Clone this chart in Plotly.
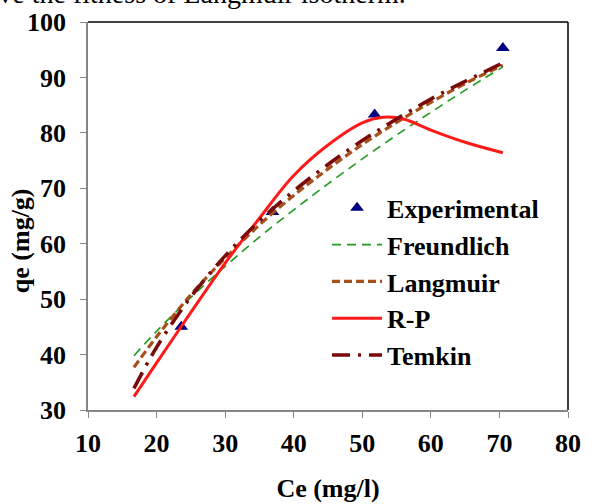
import plotly.graph_objects as go

# Experimental data
exp_ce = [23.6, 36.9, 51.8, 70.5]
exp_qe = [45.0, 65.7, 83.3, 95.3]

# Model curves
fit_ce = [16.7, 20, 25, 30, 35, 40, 45, 50, 55, 60, 65, 70.5]
freundlich_qe = [39.8, 44.2, 50.3, 55.9, 61.2, 66.1, 70.8, 75.3, 79.6, 83.7, 87.7, 91.9]
langmuir_qe = [37.7, 43.2, 50.8, 57.4, 63.4, 68.7, 73.5, 77.9, 81.9, 85.5, 88.9, 92.2]
temkin_qe = [33.9, 41.3, 50.4, 57.8, 64.1, 69.5, 74.3, 78.6, 82.5, 86.1, 89.3, 92.6]

rp_ce = [16.7, 20, 25, 30, 35, 40, 45, 50, 53, 56, 60, 65, 70.5]
rp_qe = [32.4, 38.5, 47.6, 56.5, 64.6, 72.3, 77.8, 81.8, 82.8, 82.5, 80.5, 78.3, 76.4]

x_ticks = [10, 20, 30, 40, 50, 60, 70, 80]
y_ticks = [30, 40, 50, 60, 70, 80, 90, 100]

FONT = "Liberation Serif"
FS = 26

fig = go.Figure()
fig.add_trace(go.Scatter(x=exp_ce, y=exp_qe, mode="markers", name="<b>Experimental</b>",
                         marker=dict(symbol="triangle-up", size=12, color="#000080"),
                         legendgroup="a"))
fig.add_trace(go.Scatter(x=fit_ce, y=freundlich_qe, mode="lines", name="<b>Freundlich</b>",
                         line=dict(color="#1E9A1E", width=1.6, dash="9px,6px", shape="spline"),
                         legendgroup="b"))
fig.add_trace(go.Scatter(x=fit_ce, y=langmuir_qe, mode="lines", name="<b>Langmuir</b>",
                         line=dict(color="#A5501A", width=3.2, dash="8px,4px", shape="spline"),
                         legendgroup="c"))
fig.add_trace(go.Scatter(x=rp_ce, y=rp_qe, mode="lines", name="<b>R-P</b>",
                         line=dict(color="#FF1A1A", width=3, shape="spline"),
                         legendgroup="d"))
fig.add_trace(go.Scatter(x=fit_ce, y=temkin_qe, mode="lines", name="<b>Temkin</b>",
                         line=dict(color="#7A0A0A", width=3.6, dash="18px,8px,3px,8px", shape="spline"),
                         legendgroup="e"))

axis_common = dict(
    showgrid=False, zeroline=False, showline=True, linecolor="#868686", linewidth=1.5,
    ticks="outside", ticklen=6, tickcolor="#868686", tickwidth=1, automargin=False,
    tickfont=dict(family=FONT, size=FS, color="black"),
)

fig.update_xaxes(range=[10, 80], tickvals=x_ticks, ticktext=[f"<b>{v}</b>" for v in x_ticks],
                 title=dict(text="<b>Ce (mg/l)</b>", font=dict(family=FONT, size=FS, color="black"), standoff=22),
                 ticklabelstandoff=3, **axis_common)
fig.update_yaxes(range=[30, 100], tickvals=y_ticks, ticktext=[f"<b>{v}</b>" for v in y_ticks],
                 ticklabelstandoff=9, **axis_common)

# y-axis title as annotation (offset below centre as in reference)
fig.add_annotation(text="<b>qe (mg/g)</b>", xref="paper", yref="y", x=-0.14, y=60.6,
                   xanchor="center", yanchor="middle", textangle=-90, showarrow=False,
                   font=dict(family=FONT, size=FS, color="black"))

# black frame on top and right
fig.add_shape(type="line", xref="paper", yref="paper", x0=0, x1=1, y0=1, y1=1,
              line=dict(color="black", width=1.5))
fig.add_shape(type="line", xref="paper", yref="paper", x0=1, x1=1, y0=0, y1=1,
              line=dict(color="black", width=1.5))

fig.add_annotation(text="prove the fitness of Langmuir isotherm.", xref="paper", yref="paper",
                   x=-0.268, y=1, xanchor="left", yanchor="bottom", yshift=11, showarrow=False,
                   font=dict(family=FONT, size=28, color="black"))

fig.update_layout(
    width=605, height=504,
    margin=dict(l=88, r=37, t=22, b=93.5),
    paper_bgcolor="white", plot_bgcolor="white",
    showlegend=True,
    legend=dict(x=0.498, y=0.33, xanchor="left", yanchor="middle",
                font=dict(family=FONT, size=FS, color="black"),
                bgcolor="rgba(0,0,0,0)", tracegroupgap=0, itemwidth=50),
)

fig.write_html("out.html")
